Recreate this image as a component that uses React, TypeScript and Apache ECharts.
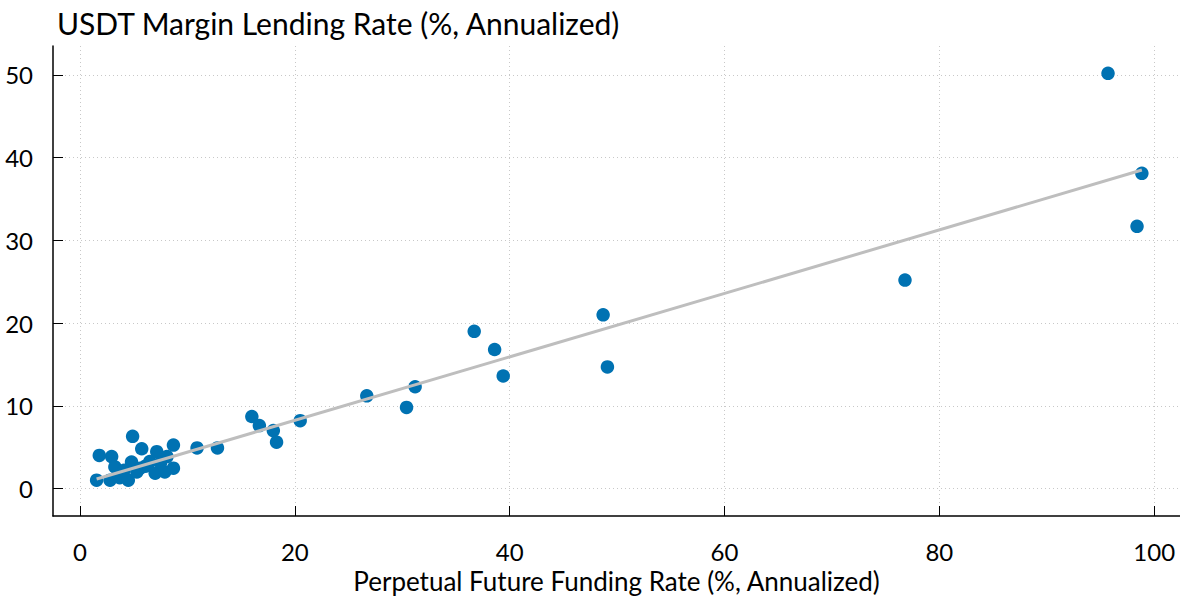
import React, { useEffect, useRef } from "react";
import * as echarts from "echarts";

const titleText = "USDT Margin Lending Rate (%, Annualized)";
const xAxisName = "Perpetual Future Funding Rate (%, Annualized)";
const xTicks = [0, 20, 40, 60, 80, 100];
const yTicks = [0, 10, 20, 30, 40, 50];

const fundingRate = [
  95.7, 98.85, 98.4, 76.8, 48.7, 49.1, 36.7, 38.6, 39.4, 31.2, 30.4, 26.7,
  20.5, 16.0, 16.7, 18.0, 18.3, 12.8, 10.9,
  1.55, 1.8, 2.95, 3.25, 2.8, 3.7, 4.9, 4.8, 4.5, 5.75, 5.6, 6.5, 7.15, 7.0,
  7.9, 8.7, 8.7, 8.1, 4.1, 6.1, 7.5, 5.3,
];
const lendingRate = [
  50.2, 38.1, 31.7, 25.2, 21.0, 14.7, 19.0, 16.8, 13.6, 12.3, 9.8, 11.2,
  8.2, 8.7, 7.6, 7.0, 5.6, 4.9, 4.9,
  1.0, 4.0, 3.85, 2.6, 1.0, 1.3, 6.3, 3.2, 1.0, 4.8, 2.45, 3.25, 4.45, 1.85,
  2.0, 5.25, 2.45, 3.85, 2.2, 2.7, 3.1, 2.0,
];
const fitLineX = [1.55, 98.85];
const fitLineY = [1.15, 38.5];

const FONT = "Lato";

export default function App() {
  const ref = useRef<HTMLDivElement>(null);
  useEffect(() => {
    const chart = echarts.init(ref.current!, null, { renderer: "svg" });
    const points = fundingRate.map((x, i) => [x, lendingRate[i]]);
    const fit = fitLineX.map((x, i) => [x, fitLineY[i]]);
    const gridLine = { show: true, lineStyle: { color: "#c8c8c8", type: [1, 3] as any, width: 1 } };
    chart.setOption({
      animation: false,
      textStyle: { fontFamily: FONT },
      title: {
        text: titleText,
        left: 52,
        top: 3,
        textStyle: { fontFamily: FONT, fontSize: 30, fontWeight: "normal", color: "#000" },
      },
      grid: { left: 53, right: 0, top: 46, bottom: 80, containLabel: false, outerBoundsMode: "none" },
      xAxis: {
        type: "value",
        min: -2.51,
        max: 102.4,
        name: xAxisName,
        nameLocation: "middle",
        nameGap: 45,
        nameTextStyle: { fontFamily: FONT, fontSize: 26, lineHeight: 26, color: "#000" },
        axisLine: { show: true, onZero: false, lineStyle: { color: "#000", width: 1.5 } },
        axisTick: { show: true, inside: true, length: 10, customValues: xTicks, lineStyle: { color: "#000", width: 1 } },
        axisLabel: { customValues: xTicks, fontSize: 24, color: "#000", margin: 23, fontFamily: FONT },
        splitLine: gridLine,
      },
      yAxis: {
        type: "value",
        min: -3.33,
        max: 53.5,
        axisLine: { show: true, onZero: false, lineStyle: { color: "#000", width: 1.5 } },
        axisTick: { show: true, inside: true, length: 10, customValues: yTicks, lineStyle: { color: "#000", width: 1 } },
        axisLabel: { customValues: yTicks, fontSize: 24, color: "#000", margin: 20, fontFamily: FONT },
        splitLine: gridLine,
      },
      series: [
        {
          type: "scatter",
          data: points,
          symbolSize: 13.5,
          itemStyle: { color: "#0072B2", opacity: 1 },
          z: 2,
        },
        {
          type: "line",
          data: fit,
          symbol: "none",
          lineStyle: { color: "#bebebe", width: 3 },
          z: 3,
        },
      ],
    });
    return () => chart.dispose();
  }, []);
  return (
    <div
      ref={ref}
      style={{ position: "fixed", left: 0, top: 0, width: 1180, height: 596, background: "#fff" }}
    />
  );
}
